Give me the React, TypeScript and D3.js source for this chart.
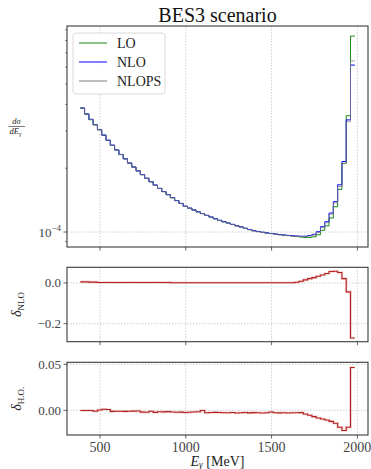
import React from 'react';
import * as d3 from 'd3';

const W = 371;
const H = 469;

// Photon energy bins (MeV): 64 bins of 25 MeV starting at 385
const edgeStart = 385;
const binWidth = 25;
const nBins = 64;

// dσ/dE_γ in units of 1e-4
const nloE4 = [
  3.85, 3.61, 3.40, 3.21, 3.04, 2.867, 2.710, 2.569, 2.440, 2.323,
  2.216, 2.117, 2.027, 1.944, 1.867, 1.795, 1.728, 1.666, 1.608, 1.553,
  1.502, 1.453, 1.408, 1.365, 1.324, 1.297, 1.271, 1.246, 1.222, 1.199,
  1.177, 1.156, 1.136, 1.119, 1.103, 1.087, 1.071, 1.057, 1.042, 1.028,
  1.015, 1.006, 0.998, 0.991, 0.985, 0.979, 0.973, 0.968, 0.964, 0.960,
  0.957, 0.955, 0.956, 0.963, 0.975, 1.003, 1.059, 1.118, 1.229, 1.39,
  1.67, 2.15, 3.38, 6.13,
];
const loE4 = [
  3.831, 3.592, 3.386, 3.197, 3.034, 2.861, 2.705, 2.564, 2.435, 2.318,
  2.212, 2.113, 2.023, 1.940, 1.863, 1.791, 1.725, 1.663, 1.605, 1.550,
  1.499, 1.452, 1.407, 1.364, 1.323, 1.296, 1.270, 1.245, 1.221, 1.198,
  1.176, 1.155, 1.135, 1.118, 1.102, 1.086, 1.070, 1.056, 1.041, 1.027,
  1.014, 1.005, 0.997, 0.990, 0.984, 0.978, 0.972, 0.967, 0.963, 0.959,
  0.954, 0.947, 0.942, 0.943, 0.950, 0.971, 1.019, 1.069, 1.164, 1.315,
  1.589, 2.106, 3.536, 8.40,
];
const nlopsE4 = [
  3.849, 3.609, 3.399, 3.207, 3.041, 2.870, 2.712, 2.566, 2.438, 2.320,
  2.213, 2.115, 2.025, 1.942, 1.863, 1.791, 1.726, 1.662, 1.605, 1.550,
  1.500, 1.450, 1.405, 1.362, 1.321, 1.294, 1.269, 1.244, 1.222, 1.196,
  1.174, 1.153, 1.133, 1.116, 1.100, 1.084, 1.068, 1.054, 1.039, 1.025,
  1.012, 1.003, 0.995, 0.988, 0.983, 0.976, 0.970, 0.965, 0.961, 0.957,
  0.955, 0.953, 0.952, 0.958, 0.968, 0.995, 1.049, 1.106, 1.214, 1.371,
  1.639, 2.103, 3.317, 6.415,
];
// δ_NLO
const deltaNLO = [
  0.005, 0.005, 0.004, 0.004, 0.002, 0.002, 0.002, 0.002, 0.002, 0.002,
  0.002, 0.002, 0.002, 0.002, 0.002, 0.002, 0.002, 0.002, 0.002, 0.002,
  0.002, 0.001, 0.001, 0.001, 0.001, 0.001, 0.001, 0.001, 0.001, 0.001,
  0.001, 0.001, 0.001, 0.001, 0.001, 0.001, 0.001, 0.001, 0.001, 0.001,
  0.001, 0.001, 0.001, 0.001, 0.001, 0.001, 0.001, 0.001, 0.001, 0.001,
  0.003, 0.008, 0.015, 0.021, 0.026, 0.033, 0.039, 0.046, 0.056, 0.057,
  0.051, 0.021, -0.044, -0.270,
];
// δ_H.O. in units of 1e-3
const deltaHOE3 = [
  -0.2, -0.3, -0.3, -1.0, 0.4, 1.2, 0.9, -1.2, -1.0, -1.1,
  -1.2, -1.1, -0.9, -0.8, -2.0, -2.2, -1.0, -2.3, -1.6, -1.7,
  -1.4, -1.8, -2.2, -2.0, -2.4, -2.1, -1.9, -1.6, -0.2, -2.6,
  -2.4, -2.3, -2.4, -2.6, -2.7, -2.4, -2.9, -2.6, -2.4, -2.8,
  -2.5, -2.7, -2.9, -2.6, -1.8, -2.6, -2.8, -2.7, -2.9, -2.7,
  -2.6, -2.5, -4.0, -5.4, -6.9, -8.3, -9.4, -10.5, -12.0, -14.0,
  -18.5, -22.0, -18.5, 46.5,
];

const xTicks = [500, 1000, 1500, 2000];
const yMinorLog = [9e-5, 2e-4, 3e-4, 4e-4, 5e-4, 6e-4, 7e-4, 8e-4, 9e-4];
const y2Ticks = [0.0, -0.2];
const y2Labels = ['0.0', '\u22120.2'];
const y3Ticks = [0.05, 0.0];
const y3Labels = ['0.05', '0.00'];
const legendLabels = ['LO', 'NLO', 'NLOPS'];
const legendColors = ['#1a8a1a', '#0000ff', '#7f7f7f'];

const FONT = '"Liberation Serif", "DejaVu Serif", serif';
const GRID = '#c4c4c4';
const SPINE = '#3a3a3a';
const TICKC = '#444';
const RED = '#b22222';

export default function App() {
  const edges = d3.range(nBins + 1).map((i) => edgeStart + i * binWidth);
  const L = 67, R = 368;
  const p1 = { top: 26, bottom: 247 };
  const p2 = { top: 267.3, bottom: 341.7 };
  const p3 = { top: 362.3, bottom: 435 };

  const x = d3.scaleLinear().domain([307.6, 2062]).range([L, R]);
  const y1 = d3.scaleLog().domain([8.5e-5, 9.37e-4]).range([p1.bottom, p1.top]);
  const y2 = d3.scaleLinear().domain([-0.2884, 0.0766]).range([p2.bottom, p2.top]);
  const y3 = d3.scaleLinear().domain([-0.02685, 0.05217]).range([p3.bottom, p3.top]);

  const step = (vals: number[], y: (v: number) => number) => {
    const pts: [number, number][] = vals.map((v, i) => [edges[i], v]);
    pts.push([edges[nBins], vals[nBins - 1]]);
    return (
      d3
        .line<[number, number]>()
        .curve(d3.curveStepAfter)
        .x((d) => x(d[0]))
        .y((d) => y(d[1]))(pts) || ''
    );
  };

  const lo = loE4.map((v) => v * 1e-4);
  const nlo = nloE4.map((v) => v * 1e-4);
  const nlops = nlopsE4.map((v) => v * 1e-4);
  const dho = deltaHOE3.map((v) => v * 1e-3);

  const vGrid = (p: { top: number; bottom: number }) =>
    xTicks.map((t) => (
      <line key={'vg' + t} x1={x(t)} x2={x(t)} y1={p.top} y2={p.bottom} stroke={GRID} strokeWidth={0.8} strokeDasharray="1.5,1.5" />
    ));
  const hGrid = (ys: number[]) =>
    ys.map((yy, i) => (
      <line key={'hg' + i} x1={L} x2={R} y1={yy} y2={yy} stroke={GRID} strokeWidth={0.8} strokeDasharray="1.5,1.5" />
    ));
  const xTickMarks = (p: { top: number; bottom: number }) =>
    xTicks.map((t) => (
      <line key={'xt' + t} x1={x(t)} x2={x(t)} y1={p.bottom} y2={p.bottom + 3.5} stroke={SPINE} strokeWidth={0.8} />
    ));
  const frame = (p: { top: number; bottom: number }) => (
    <rect x={L} y={p.top} width={R - L} height={p.bottom - p.top} fill="none" stroke={SPINE} strokeWidth={1.1} />
  );

  return (
    <svg width={W} height={H} style={{ position: 'absolute', left: 0, top: 0, background: '#fff' }} fontFamily={FONT}>
      <rect x={0} y={0} width={W} height={H} fill="#fff" />
      {/* Title */}
      <text x={(L + R) / 2} y={22} textAnchor="middle" fontSize={20} fill="#111">BES3 scenario</text>

      {/* Panel 1 */}
      {vGrid(p1)}
      {hGrid([y1(1e-4)])}
      <path d={step(lo, y1)} fill="none" stroke="#1a8a1a" strokeWidth={1} />
      <path d={step(nlo, y1)} fill="none" stroke="#0000ff" strokeWidth={1} />
      <path d={step(nlops, y1)} fill="none" stroke="#7f7f7f" strokeWidth={1} strokeOpacity={0.75} />
      {frame(p1)}
      {xTickMarks(p1)}
      <line x1={L - 3.5} x2={L} y1={y1(1e-4)} y2={y1(1e-4)} stroke={SPINE} strokeWidth={0.8} />
      {yMinorLog.map((t) => (
        <line key={'mn' + t} x1={L - 2} x2={L} y1={y1(t)} y2={y1(t)} stroke={SPINE} strokeWidth={0.6} />
      ))}
      <text x={61} y={y1(1e-4) + 4.5} textAnchor="end" fontSize={13} fill={TICKC}>
        10<tspan dy={-6} fontSize={9}>{'\u22124'}</tspan>
      </text>
      {/* y label dσ/dE_γ */}
      <g fill="#222">
        <text x={16.5} y={124} textAnchor="middle" fontSize={8.5} fontStyle="italic">dσ</text>
        <line x1={8.5} x2={25} y1={126.5} y2={126.5} stroke="#222" strokeWidth={0.6} />
        <text x={15.5} y={134} textAnchor="middle" fontSize={8.5} fontStyle="italic">
          dE<tspan fontSize={6} dy={1.5}>γ</tspan>
        </text>
      </g>

      {/* Legend */}
      <rect x={73} y={33} width={92} height={61} rx={3} fill="#fff" fillOpacity={0.85} stroke="#d0d0d0" strokeWidth={0.8} />
      {legendLabels.map((lab, i) => {
        const yy = 43 + i * 19;
        return (
          <g key={lab}>
            <line x1={79} x2={107} y1={yy} y2={yy} stroke={legendColors[i]} strokeWidth={1} />
            <text x={117} y={yy + 5} fontSize={14} fill="#222">{lab}</text>
          </g>
        );
      })}

      {/* Panel 2: δ_NLO */}
      {vGrid(p2)}
      {hGrid(y2Ticks.map((t) => y2(t)))}
      <path d={step(deltaNLO, y2)} fill="none" stroke="#e08a8a" strokeWidth={2.6} strokeOpacity={0.35} />
      <path d={step(deltaNLO, y2)} fill="none" stroke={RED} strokeWidth={1.1} />
      {frame(p2)}
      {xTickMarks(p2)}
      {y2Ticks.map((t, i) => (
        <g key={'y2' + i}>
          <line x1={L - 3.5} x2={L} y1={y2(t)} y2={y2(t)} stroke={SPINE} strokeWidth={0.8} />
          <text x={61} y={y2(t) + 4.5} textAnchor="end" fontSize={13} fill={TICKC}>{y2Labels[i]}</text>
        </g>
      ))}
      <text transform={`translate(21,${(p2.top + p2.bottom) / 2}) rotate(-90)`} textAnchor="middle" fontSize={14} fill="#222">
        <tspan fontStyle="italic">δ</tspan>
        <tspan fontSize={9} dy={3}>NLO</tspan>
      </text>

      {/* Panel 3: δ_H.O. */}
      {vGrid(p3)}
      {hGrid(y3Ticks.map((t) => y3(t)))}
      <path d={step(dho, y3)} fill="none" stroke="#e08a8a" strokeWidth={2.6} strokeOpacity={0.35} />
      <path d={step(dho, y3)} fill="none" stroke={RED} strokeWidth={1.1} />
      {frame(p3)}
      {xTickMarks(p3)}
      {y3Ticks.map((t, i) => (
        <g key={'y3' + i}>
          <line x1={L - 3.5} x2={L} y1={y3(t)} y2={y3(t)} stroke={SPINE} strokeWidth={0.8} />
          <text x={61} y={y3(t) + 4.5} textAnchor="end" fontSize={13} fill={TICKC}>{y3Labels[i]}</text>
        </g>
      ))}
      <text transform={`translate(21,${(p3.top + p3.bottom) / 2}) rotate(-90)`} textAnchor="middle" fontSize={14} fill="#222">
        <tspan fontStyle="italic">δ</tspan>
        <tspan fontSize={9} dy={3}>H.O.</tspan>
      </text>

      {/* x tick labels */}
      {xTicks.map((t) => (
        <text key={'xl' + t} x={x(t)} y={451.5} textAnchor="middle" fontSize={14} fill={TICKC}>{t}</text>
      ))}
      <text x={(L + R) / 2} y={466} textAnchor="middle" fontSize={14} fill="#222">
        <tspan fontStyle="italic">E</tspan>
        <tspan fontSize={9.5} dy={2} fontStyle="italic">γ</tspan>
        <tspan dy={-2}> [MeV]</tspan>
      </text>
    </svg>
  );
}
